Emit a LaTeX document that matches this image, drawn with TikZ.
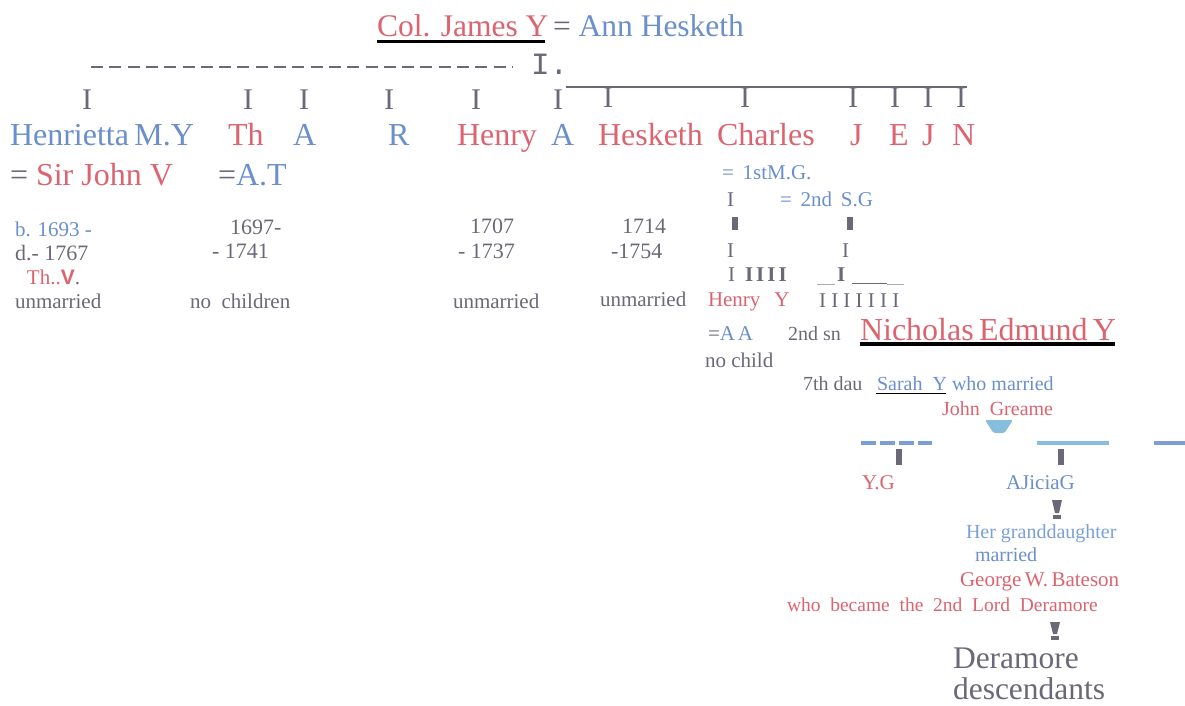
\documentclass[tikz,border=0pt]{standalone}
\usepackage{fontspec}
\setmainfont{Liberation Serif}
\newfontfamily\monof{Liberation Mono}
\newfontfamily\sansf{Liberation Sans}
\definecolor{rd}{HTML}{DC6470}
\definecolor{bl}{HTML}{6B8FCB}
\definecolor{gy}{HTML}{6B6878}
\definecolor{lb}{HTML}{88BEDD}
\definecolor{lbl}{HTML}{7BA0D8}
\definecolor{dbl}{HTML}{7B9ED4}
\begin{document}
\begin{tikzpicture}[x=1pt,y=-1pt,
  t/.style={anchor=base west, inner sep=0pt, outer sep=0pt},
  tc/.style={anchor=base, inner sep=0pt, outer sep=0pt},
  big/.style={font=\fontsize{32}{38}\selectfont},
  huge/.style={font=\fontsize{31.5}{37}\selectfont},
  mid/.style={font=\fontsize{22}{26}\selectfont},
  sm/.style={font=\fontsize{21}{25}\selectfont},
  xs/.style={font=\fontsize{20}{24}\selectfont},
  tick/.style={tc, font=\fontsize{30}{36}\selectfont, text=gy}]
\fill[white] (0,0) rectangle (1185,706);
\useasboundingbox (0,0) rectangle (1185,706);

% title
\node[t, huge, text=rd] (james) at (377,37) {Col. James Y};
\draw[black, line width=3.5pt] (james.base west) ++(0,4.5) -- ++(168,0);
\node[t, huge] (ann) at (553,37) {\textcolor{gy}{=} \textcolor{bl}{Ann Hesketh}};

% dashed line and I.
\draw[gy, line width=2pt, dash pattern=on 12pt off 6.3pt] (91,67) -- (512,67);
\node[t, text=gy, font=\monof\fontsize{31}{36}\selectfont] (Idot) at (531,75) {I.};
\draw[gy, line width=2.5pt] (566,87) -- (967,87);

% ticks
\foreach \xx/\nm in {87/a,248/b,304/c,389/d,476/e,558/f}
  \node[tick] (tk\nm) at (\xx,110) {I};
\foreach \xx/\nm in {608/g,745/h,853/i,895/j,928/k,961/l}
  \node[tick] (tk\nm) at (\xx,108) {I};

% names row
\node[t, big, text=bl] (henrietta) at (10,145) {Henrietta\,M.Y};
\node[t, big, text=rd] (th) at (228,145) {Th};
\node[t, big, text=bl] (a1) at (293,145) {A};
\node[t, big, text=bl] (r) at (388,145) {R};
\node[t, big, text=rd] (henry) at (457,145) {Henry};
\node[t, big, text=bl] (a2) at (551,145) {A};
\node[t, big, text=rd] (hesketh) at (598,145) {Hesketh};
\node[t, big, text=rd] (charles) at (717,145) {Charles};
\node[t, big, text=rd] (j1) at (850,145) {J};
\node[t, big, text=rd] (e1) at (889,145) {E};
\node[t, big, text=rd] (j2) at (922,145) {J};
\node[t, big, text=rd] (n1) at (952,145) {N};

\node[t, big] (sirjohn) at (10,185) {\textcolor{gy}{=} \textcolor{rd}{Sir John V}};
\node[t, big] (at) at (218,185) {\textcolor{gy}{=}\textcolor{bl}{A.T}};

% left columns
\node[t, sm, text=bl] (b1693) at (15,236) {b. 1693 -};
\node[t, mid, text=gy] (d1767) at (15,260) {d.- 1767};
\node[t, sm] (thv) at (27,284) {\textcolor{rd}{Th..{\sansf\bfseries V}}\textcolor{gy}{.}};
\node[t, sm, text=gy] (unm1) at (15,308) {unmarried};

\node[t, mid, text=gy] (y1697) at (230,234) {1697-};
\node[t, mid, text=gy] (y1741) at (212,258) {- 1741};
\node[t, sm, text=gy] (nochildren) at (190,308) {no\ \ children};

\node[t, mid, text=gy] (y1707) at (470,233) {1707};
\node[t, mid, text=gy] (y1737) at (458,258) {- 1737};
\node[t, sm, text=gy] (unm2) at (453,308) {unmarried};

\node[t, mid, text=gy] (y1714) at (622,233) {1714};
\node[t, mid, text=gy] (y1754) at (611,258) {-1754};
\node[t, sm, text=gy] (unm3) at (600,306) {unmarried};

% Charles branch
\node[t, sm, text=bl] (mg) at (722,179) {=\, 1stM.G.};
\node[t, sm, text=gy] (ci1) at (727,206) {I};
\node[t, sm, text=bl] (sg) at (780,206) {=\, 2nd\, S.G};
\fill[gy] (732,217) rectangle (738,230);
\fill[gy] (847,217) rectangle (853,230);
\node[t, sm, text=gy] (ci2) at (727,257) {I};
\node[t, sm, text=gy] (ci3) at (842,257) {I};
\node[t, sm, text=gy] (ci4) at (728,281) {I};
\node[t, sm, text=gy] (ci5) at (745,281) {\bfseries I\hspace{3pt}I\hspace{3pt}I\hspace{3pt}I};
\draw[gy!55, line width=1pt] (817,284) -- (835,284);
\node[t, sm, text=gy] (ci6) at (837,281) {\bfseries I};
\draw[gy, line width=1pt] (852,283) -- (887,283);
\draw[gy!55, line width=1pt] (887,284) -- (904,284);
\node[t, sm, text=rd] (henryy) at (708,306) {Henry\hspace{14pt}Y};
\node[t, sm, text=gy] (sevenI) at (819,307) {I I I I I I I};
\node[t, sm] (aa) at (708,340) {\textcolor{gy}{=}\textcolor{bl}{A\hspace{3pt}A}};
\node[t, xs, text=gy] (sn) at (788,340) {2nd\ sn};
\node[t, big, text=rd] (nicholas) at (860,340) {Nicholas\,Edmund\,Y};
\draw[black, line width=3.5pt] (860,344) -- (1115,344);
\node[t, sm, text=gy] (nochild) at (705,367) {no child};

\node[t, xs, text=gy] (dau) at (803,390) {7th\ dau};
\node[t, xs, text=bl] (sarah) at (877,390) {Sarah\ \ Y};
\draw[black, line width=1.2pt] (876,393.5) -- (946,393.5);
\node[t, xs, text=bl] (whom) at (952,390) {who married};
\node[t, xs, text=rd] (greame) at (942,415) {John\ \ Greame};

% funnel
\fill[lb, rounded corners=1.5pt] (985,420) -- (1013,420) -- (1004.5,433) -- (993.5,433) -- cycle;

% sibling lines
\draw[dbl, line width=4pt, dash pattern=on 15pt off 4pt] (861,443) -- (932,443);
\draw[lb, line width=4pt] (1037,443) -- (1109,443);
\draw[dbl, line width=4pt] (1154,443) -- (1185,443);
\fill[gy] (896,449) rectangle (902,465);
\fill[gy] (1058,449) rectangle (1064,465);
\node[t, sm, text=rd] (yg) at (862,489) {Y.G};
\node[t, sm, text=bl] (ajicia) at (1006,489) {AJiciaG};

% exclamation marks
\fill[gy] (1052,500) -- (1062,500) -- (1059,513) -- (1055,513) -- cycle;
\fill[gy] (1053,515) rectangle (1061,519);
\node[t, xs, text=lbl] (gdau) at (966,538) {Her granddaughter};
\node[t, xs, text=bl] (married) at (975,561) {married};
\node[t, sm, text=rd] (george) at (960,586) {George\,W.\,Bateson};
\node[t, font=\fontsize{19.5}{23}\selectfont, text=rd] (whobecame) at (787,611) {who\ \ became\ \ the\ \ 2nd\ \ Lord\ \ Deramore};
\fill[gy] (1050,622) -- (1060,622) -- (1057,634) -- (1053,634) -- cycle;
\fill[gy] (1051,636) rectangle (1059,640);
\node[t, huge, text=gy] (deramore) at (953,668) {Deramore};
\node[t, huge, text=gy] (desc) at (953,699) {descendants};
\end{tikzpicture}
\end{document}
